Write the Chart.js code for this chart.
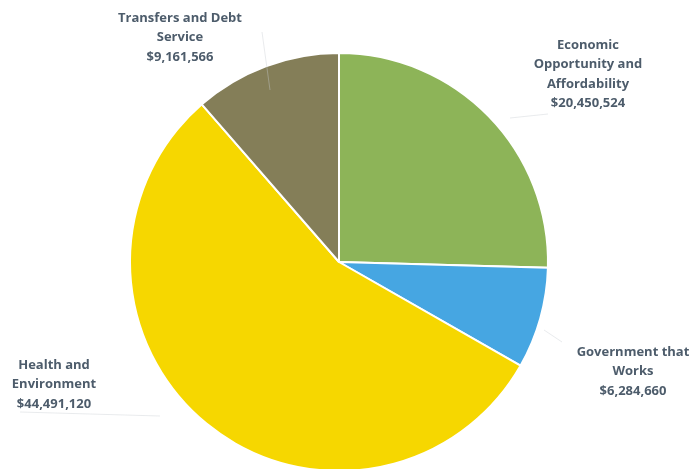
<!DOCTYPE html>
<html><head><meta charset="utf-8">
<script src="https://cdn.jsdelivr.net/npm/chart.js@4"></script>
<style>html,body{margin:0;padding:0;background:#fff;overflow:hidden;width:694px;height:469px}#w{width:694px;height:480px;position:relative}</style>
</head><body><div id="w"><canvas id="c"></canvas></div>
<script>
const categories = ["Economic Opportunity and Affordability", "Government that Works", "Health and Environment", "Transfers and Debt Service"];
const values = [20450524, 6284660, 44491120, 9161566];
const labelLines = [
  ["Economic", "Opportunity and", "Affordability", "$20,450,524"],
  ["Government that", "Works", "$6,284,660"],
  ["Health and", "Environment", "$44,491,120"],
  ["Transfers and Debt", "Service", "$9,161,566"]
];
const colors = ["#8DB458", "#46A6E2", "#F6D700", "#847E58"];
const labelPos = [[588, 45], [633, 352], [54, 365], [180, 18]];

const labelPlugin = {
  id: 'lbl',
  afterDraw(chart) {
    const ctx = chart.ctx;
    ctx.save();
    ctx.font = "bold 13px 'Open Sans', sans-serif";
    ctx.fillStyle = "#4D5C6B";
    ctx.textAlign = "center";
    ctx.textBaseline = "middle";
    labelLines.forEach((lines, i) => {
      const [x, y] = labelPos[i];
      lines.forEach((t, j) => ctx.fillText(t, x, y + j * 19.5));
    });
    ctx.strokeStyle = "rgba(200,205,210,0.4)";
    ctx.lineWidth = 1;
    const leads = [[[548,114],[510,118]], [[562,342],[544,330]], [[20,412],[160,416]], [[262,32],[270,90]]];
    leads.forEach(l => { ctx.beginPath(); ctx.moveTo(l[0][0], l[0][1]); ctx.lineTo(l[1][0], l[1][1]); ctx.stroke(); });
    ctx.restore();
  }
};

new Chart(document.getElementById('c'), {
  type: 'pie',
  data: { labels: categories, datasets: [{ data: values, backgroundColor: colors, borderColor: '#ffffff', borderWidth: 2 }] },
  options: {
    responsive: true, maintainAspectRatio: false, animation: false,
    layout: { padding: { top: 52, bottom: 8, left: 129, right: 145 } },
    plugins: { legend: { display: false }, tooltip: { enabled: false } }
  },
  plugins: [labelPlugin]
});
</script></body></html>
